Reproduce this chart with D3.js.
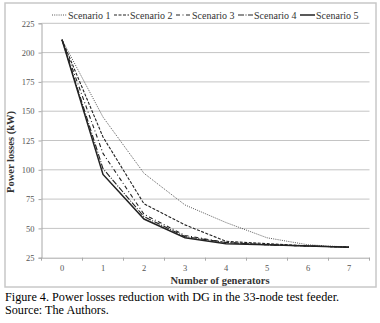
<!DOCTYPE html>
<html>
<head>
<meta charset="utf-8">
<script src="https://cdn.jsdelivr.net/npm/d3@7"></script>
<style>
  body { margin: 0; background: #fff; }
  svg { display: block; }
  text { font-family: "Liberation Serif", "Times New Roman", serif; }
</style>
</head>
<body>
<div id="chart"></div>
<script>
// power losses vs number of generators, 33-node feeder
let generators = [0, 1, 2, 3, 4, 5, 6, 7]
let scenarioNames = ['Scenario 1', 'Scenario 2', 'Scenario 3', 'Scenario 4', 'Scenario 5']
let scenario1 = [211, 145, 97, 70, 55, 42, 36, 34]
let scenario2 = [211, 128, 71, 53, 39, 37, 35, 34]
let scenario3 = [211, 114, 62, 44, 38, 36, 35, 34]
let scenario4 = [211, 101, 60, 43, 38, 36, 35, 34]
let scenario5 = [211, 96, 58, 42, 37, 36, 35, 34]
let yTicks = [25, 50, 75, 100, 125, 150, 175, 200, 225]

let allSeries = [scenario1, scenario2, scenario3, scenario4, scenario5]
// line look for each scenario
let dashes = ['1,1.2', '3,1.5', '4,2.5,1,2.5', '6,1.5,1,1.5', null]
let widths = [0.9, 1.1, 1.1, 1.1, 1.5]

let width = 380, height = 323
let svg = d3.select('#chart').append('svg')
    .attr('width', width)
    .attr('height', height)

// outer frame of the chart
svg.append('rect')
    .attr('x', 5).attr('y', 3)
    .attr('width', 371).attr('height', 284)
    .attr('fill', 'none')
    .attr('stroke', '#c8c8c8')
    .attr('stroke-width', 1.5)

let plot = {left: 41.5, right: 369.5, top: 23.3, bottom: 257.7}

let x = d3.scaleBand().domain(generators).range([plot.left, plot.right])
let y = d3.scaleLinear().domain([25, 225]).range([plot.bottom, plot.top])

// gridlines
svg.append('g')
    .selectAll('line')
    .data(yTicks.slice(1))
    .enter()
    .append('line')
    .attr('x1', plot.left).attr('x2', plot.right)
    .attr('y1', d => y(d)).attr('y2', d => y(d))
    .attr('stroke', '#c4c4c4')
    .attr('stroke-width', 1)

// y axis
let yAxis = svg.append('g')
    .attr('transform', `translate(${plot.left},0)`)
    .call(d3.axisLeft(y).tickValues(yTicks).tickSize(3).tickPadding(4))
yAxis.select('.domain').attr('stroke', '#a8a8a8')
yAxis.selectAll('line').attr('stroke', '#a8a8a8')
yAxis.selectAll('text')
    .attr('fill', '#555')
    .style('font-size', '8.5px')
    .style('font-family', '"Liberation Serif", serif')

// x axis, ticks sit on the band edges
let xAxis = svg.append('g')
    .attr('transform', `translate(0,${plot.bottom})`)
    .call(d3.axisBottom(x).tickSize(0).tickPadding(7))
xAxis.select('.domain').attr('stroke', '#a8a8a8')
xAxis.selectAll('text')
    .attr('fill', '#555')
    .style('font-size', '8.5px')
    .style('font-family', '"Liberation Serif", serif')
xAxis.selectAll('.edge')
    .data(generators.concat([generators.length]))
    .enter()
    .append('line')
    .attr('class', 'edge')
    .attr('x1', (d, i) => plot.left + i * x.step())
    .attr('x2', (d, i) => plot.left + i * x.step())
    .attr('y1', 0).attr('y2', 3)
    .attr('stroke', '#a8a8a8')

// axis titles
svg.append('text')
    .attr('transform', 'translate(14,152) rotate(-90)')
    .attr('text-anchor', 'middle')
    .style('font-size', '10.5px')
    .style('font-weight', 'bold')
    .attr('fill', '#333')
    .text('Power losses (kW)')

svg.append('text')
    .attr('x', 220).attr('y', 284)
    .attr('text-anchor', 'middle')
    .style('font-size', '10.5px')
    .style('font-weight', 'bold')
    .attr('fill', '#333')
    .text('Number of generators')

// the lines
let line = d3.line()
    .x((d, i) => x(generators[i]) + x.bandwidth() / 2)
    .y(d => y(d))

svg.append('g')
    .selectAll('path')
    .data(allSeries)
    .enter()
    .append('path')
    .attr('d', d => line(d))
    .attr('fill', 'none')
    .attr('stroke', (d, i) => i == 0 ? '#444' : '#222')
    .attr('stroke-width', (d, i) => widths[i])
    .attr('stroke-dasharray', (d, i) => dashes[i])

// legend across the top
let legend = svg.append('g')
    .selectAll('g')
    .data(scenarioNames)
    .enter()
    .append('g')
    .attr('transform', (d, i) => `translate(${52 + i * 62},15)`)

legend.append('line')
    .attr('x1', 0).attr('x2', 15)
    .attr('y1', 0).attr('y2', 0)
    .attr('stroke', (d, i) => i == 0 ? '#444' : '#222')
    .attr('stroke-width', (d, i) => widths[i])
    .attr('stroke-dasharray', (d, i) => dashes[i])

legend.append('text')
    .attr('x', 16).attr('y', 3.5)
    .style('font-size', '10px')
    .attr('fill', '#333')
    .text(d => d)

// caption under the chart
svg.append('text')
    .attr('x', 5).attr('y', 301)
    .style('font-size', '12.2px')
    .attr('fill', '#000')
    .text('Figure 4. Power losses reduction with DG in the 33-node test feeder.')

svg.append('text')
    .attr('x', 5).attr('y', 314)
    .style('font-size', '12.2px')
    .attr('fill', '#000')
    .text('Source: The Authors.')
</script>
</body>
</html>
